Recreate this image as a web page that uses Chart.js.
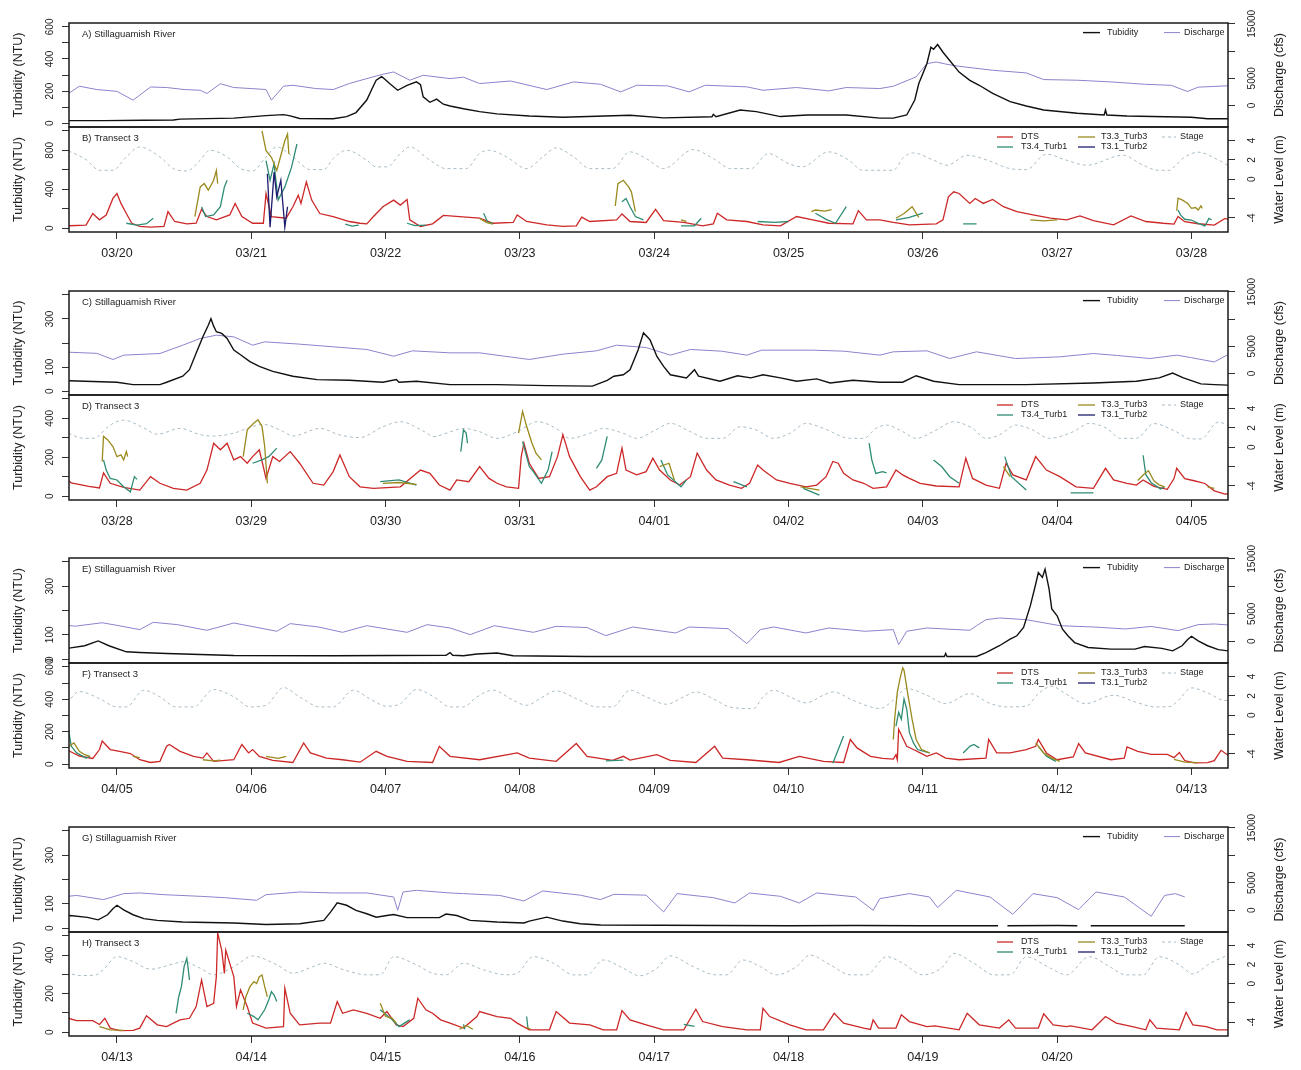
<!DOCTYPE html>
<html>
<head>
<meta charset="utf-8">
<script src="https://cdn.jsdelivr.net/npm/chart.js@4.4.1/dist/chart.umd.min.js"></script>
<style>
  html, body { margin: 0; padding: 0; background: #fff; }
  #wrap { position: relative; width: 1301px; height: 1070px; overflow: hidden; }
  #wrap canvas { position: absolute; left: 0; }
</style>
</head>
<body>
<div id="wrap"></div>
<script>
// time is in days counted from 1 March (03/20 = 20, 04/01 = 32, 04/13 = 44)
const tickStartDay = [20, 28, 36, 44];
const tickLabels = [
  ['03/20', '03/21', '03/22', '03/23', '03/24', '03/25', '03/26', '03/27', '03/28'],
  ['03/28', '03/29', '03/30', '03/31', '04/01', '04/02', '04/03', '04/04', '04/05'],
  ['04/05', '04/06', '04/07', '04/08', '04/09', '04/10', '04/11', '04/12', '04/13'],
  ['04/13', '04/14', '04/15', '04/16', '04/17', '04/18', '04/19', '04/20']
];
const riverNames = ['A) Stillaguamish River', 'C) Stillaguamish River', 'E) Stillaguamish River', 'G) Stillaguamish River'];
const transectNames = ['B) Transect 3', 'D) Transect 3', 'F) Transect 3', 'H) Transect 3'];

// river turbidity (NTU)
const riverTurbidity = [
  [19.64,16],[19.9,16],[20.2,18],[20.42,20],[20.47,25],[20.87,31],[21.11,47],[21.24,53],[21.29,45],[21.36,29],
  [21.61,27],[21.71,41],[21.78,66],[21.86,144],[21.9,216],[21.93,267],[21.97,290],[21.98,284],[22.03,247],[22.09,205],
  [22.16,236],[22.23,257],[22.26,240],[22.28,164],[22.33,130],[22.38,150],[22.43,118],[22.48,107],[22.58,90],[22.7,72],
  [22.83,58],[23.07,45],[23.32,37],[23.82,49],[24.07,33],[24.43,40],[24.44,55],[24.46,40],[24.64,82],[24.76,72],
  [24.94,41],[25.14,51],[25.43,51],[25.68,31],[25.78,31],[25.88,51],[25.94,144],[25.97,247],[26.03,370],[26.06,473],
  [26.08,460],[26.11,490],[26.15,442],[26.2,390],[26.27,318],[26.35,267],[26.42,236],[26.52,185],[26.65,134],[26.77,107],
  [26.9,82],[27.15,62],[27.35,51],[27.36,82],[27.37,51],[27.52,45],[28.0,37],[28.12,27],[28.32,27],[28.37,37],
  [28.49,62],[28.54,89],[28.59,158],[28.64,226],[28.68,274],[28.7,301],[28.72,270],[28.74,247],[28.78,240],[28.82,219],
  [28.87,171],[28.92,151],[28.99,123],[29.06,103],[29.16,82],[29.31,62],[29.49,48],[29.73,45],[29.98,37],[30.08,48],
  [30.1,37],[30.23,41],[30.48,27],[30.83,27],[31.2,23],[31.54,21],[31.65,45],[31.7,62],[31.77,68],[31.82,89],
  [31.88,171],[31.92,242],[31.95,225],[31.97,212],[32.02,144],[32.07,103],[32.12,68],[32.24,55],[32.3,89],[32.33,62],
  [32.49,41],[32.62,64],[32.72,55],[32.81,68],[32.94,55],[33.06,41],[33.21,51],[33.31,34],[33.48,45],[33.68,37],
  [33.85,37],[33.95,64],[34.08,41],[34.27,27],[34.77,27],[35.27,34],[35.59,41],[35.76,55],[35.86,75],[35.94,55],
  [36.07,30],[36.17,27],[36.37,23],[36.62,19],[36.87,15],[37.61,14],[38.45,16],[38.48,27],[38.5,16],[38.58,14],
  [38.68,21],[38.83,25],[38.95,14],[39.5,11],[40.5,11],[41.5,11],[42.16,11],[42.17,23],[42.18,11],[42.4,11],
  [42.47,27],[42.57,55],[42.65,82],[42.7,96],[42.75,130],[42.8,219],[42.84,308],[42.86,356],[42.89,336],[42.91,370],
  [42.94,288],[42.96,206],[43.0,178],[43.04,123],[43.08,96],[43.13,68],[43.23,48],[43.4,41],[43.58,41],[43.65,52],
  [43.78,44],[43.86,34],[43.93,55],[43.97,80],[44.0,94],[44.05,75],[44.12,55],[44.2,39],[44.3,32],[44.49,25],
  [44.87,21],[45.11,15],[45.36,18],[45.54,32],[45.59,66],[45.64,104],[45.71,94],[45.78,73],[45.86,59],[45.93,45],
  [46.01,52],[46.06,56],[46.16,43],[46.4,43],[46.45,58],[46.53,52],[46.63,32],[46.83,25],[47.03,21],[47.07,29],
  [47.2,45],[47.32,29],[47.45,18],[47.6,13],[48.5,11],[49.0,10],[49.5,11],[50.0,10],[50.56,10],[50.6,null],
  [50.63,10],[51.0,11],[51.15,10],[51.2,null],[51.25,10],[51.95,10]
];

// river discharge (cfs)
const riverDischarge = [
  [19.64,2200],[19.72,3540],[19.85,2930],[20.0,2600],[20.12,980],[20.25,3400],[20.37,3300],[20.5,2930],[20.62,2800],[20.67,2200],
  [20.77,4000],[20.87,3300],[21.0,3110],[21.11,2930],[21.15,980],[21.24,3540],[21.31,3720],[21.48,3110],[21.61,2930],[21.73,4030],
  [21.86,4940],[21.98,5730],[22.06,6160],[22.18,4640],[22.28,5550],[22.48,4940],[22.58,5200],[22.7,4030],[22.93,4500],[23.2,2930],
  [23.4,4330],[23.6,3900],[23.75,2500],[23.87,3720],[24.1,3600],[24.26,2500],[24.38,3720],[24.69,3420],[24.81,2800],[25.06,3300],
  [25.3,2680],[25.43,3300],[25.68,3110],[25.78,3540],[25.95,5250],[26.03,7690],[26.1,7990],[26.18,7560],[26.27,7200],[26.52,6470],
  [26.77,5980],[26.9,4760],[27.15,4640],[27.4,4330],[27.65,3900],[27.85,3700],[27.97,2570],[28.05,3370],[28.32,3670],[28.49,5200],
  [28.62,6430],[28.74,7040],[28.87,6730],[29.01,5200],[29.1,5810],[29.36,5390],[29.61,4900],[29.86,4410],[30.06,3180],[30.2,4160],
  [30.48,3790],[30.7,3790],[31.07,2570],[31.32,3550],[31.57,4160],[31.72,5200],[31.94,4770],[32.12,3370],[32.27,4410],[32.5,4100],
  [32.69,3370],[32.8,4280],[33.18,4280],[33.41,4100],[33.68,3370],[33.78,3980],[34.03,4160],[34.2,2750],[34.4,3980],[34.69,2750],
  [35.02,3060],[35.27,3670],[35.45,3300],[35.69,2750],[35.89,3370],[36.0,2900],[36.17,2120],[36.27,3450],[36.45,3030],[36.67,2000],
  [36.87,3330],[37.19,1820],[37.29,3210],[37.5,2600],[37.68,1630],[37.86,2840],[38.16,1630],[38.31,3030],[38.48,2420],[38.63,1210],
  [38.81,2840],[39.1,1630],[39.27,2720],[39.5,2500],[39.64,1030],[39.84,2600],[40.16,1510],[40.26,2600],[40.55,2300],[40.69,-420],
  [40.79,2120],[40.89,2600],[41.13,1510],[41.3,2420],[41.57,1820],[41.78,2120],[41.82,-600],[41.88,1820],[42.03,2420],[42.35,2000],
  [42.4,2840],[42.47,3930],[42.57,4240],[42.77,3930],[43.02,2840],[43.27,2600],[43.51,2240],[43.7,2700],[43.9,1940],[44.05,3030],
  [44.17,3150],[44.35,2840],[44.62,2540],[44.8,2300],[45.04,1820],[45.11,2840],[45.36,3330],[45.61,3150],[45.86,3150],[46.06,2420],
  [46.09,0],[46.13,3330],[46.23,3630],[46.48,3150],[46.58,3030],[46.85,2700],[47.03,1700],[47.17,3510],[47.45,2750],[47.6,1940],
  [47.7,2900],[47.94,2750],[48.07,-300],[48.17,3030],[48.44,2300],[48.6,1330],[48.71,3150],[48.94,2540],[49.08,1330],[49.21,3150],
  [49.5,2420],[49.63,0],[49.68,2120],[49.9,3030],[50.05,2420],[50.11,500],[50.25,3630],[50.5,2420],[50.67,-730],[50.82,3030],
  [51.0,2300],[51.16,120],[51.29,3330],[51.5,2420],[51.7,-1090],[51.8,2700],[51.88,3030],[51.95,2420]
];

// transect 3 DTS turbidity (NTU)
const dts = [
  [19.64,24],[19.77,30],[19.82,150],[19.87,85],[19.92,135],[19.97,305],[20.0,356],[20.03,254],[20.07,150],[20.11,50],
  [20.17,17],[20.25,10],[20.35,17],[20.38,170],[20.43,68],[20.52,44],[20.59,50],[20.63,193],[20.67,119],[20.74,85],
  [20.84,135],[20.88,254],[20.93,119],[21.01,50],[21.09,50],[21.11,356],[21.15,119],[21.26,102],[21.31,220],[21.35,339],
  [21.37,254],[21.41,475],[21.45,288],[21.51,150],[21.61,119],[21.73,68],[21.81,50],[21.86,44],[21.91,119],[21.98,220],
  [22.06,288],[22.11,237],[22.16,295],[22.18,85],[22.26,17],[22.35,44],[22.43,130],[22.55,119],[22.7,102],[22.8,50],
  [22.95,58],[22.98,136],[23.05,68],[23.2,34],[23.32,17],[23.42,24],[23.46,112],[23.52,68],[23.72,85],[23.76,146],
  [23.82,68],[23.94,58],[24.01,193],[24.07,78],[24.22,58],[24.36,24],[24.44,44],[24.47,153],[24.54,85],[24.69,68],
  [24.81,34],[24.94,24],[25.06,119],[25.18,85],[25.3,50],[25.48,44],[25.52,180],[25.58,85],[25.68,85],[25.78,58],
  [25.9,34],[26.1,44],[26.15,85],[26.19,322],[26.23,373],[26.27,356],[26.35,254],[26.39,305],[26.45,254],[26.52,295],
  [26.6,220],[26.7,170],[26.82,136],[26.95,102],[27.07,85],[27.17,125],[27.27,78],[27.42,34],[27.55,125],[27.66,68],
  [27.79,50],[27.87,42],[27.9,120],[27.95,66],[28.05,45],[28.17,31],[28.25,100],[28.32,66],[28.42,40],[28.52,31],
  [28.62,66],[28.67,134],[28.72,272],[28.77,238],[28.82,272],[28.87,186],[28.92,203],[28.97,169],[29.01,203],[29.06,238],
  [29.11,91],[29.16,203],[29.21,178],[29.29,229],[29.36,169],[29.46,66],[29.54,57],[29.61,126],[29.66,212],[29.73,100],
  [29.81,48],[29.91,40],[30.11,48],[30.26,134],[30.33,117],[30.4,57],[30.48,31],[30.53,83],[30.62,74],[30.7,152],
  [30.77,91],[30.83,66],[30.9,48],[30.99,40],[31.01,203],[31.03,272],[31.07,169],[31.14,91],[31.22,100],[31.28,203],
  [31.32,316],[31.37,203],[31.45,100],[31.52,31],[31.57,48],[31.65,100],[31.72,117],[31.76,247],[31.79,134],[31.87,109],
  [31.94,126],[31.99,195],[32.04,134],[32.12,83],[32.19,57],[32.27,100],[32.32,221],[32.39,134],[32.46,83],[32.56,57],
  [32.65,40],[32.71,66],[32.77,160],[32.81,134],[32.91,83],[33.01,66],[33.13,48],[33.21,57],[33.28,100],[33.33,178],
  [33.37,169],[33.41,117],[33.48,83],[33.56,66],[33.63,40],[33.73,48],[33.8,134],[33.85,109],[33.9,91],[33.98,66],
  [34.1,52],[34.27,48],[34.32,195],[34.37,91],[34.47,57],[34.57,40],[34.62,169],[34.67,109],[34.77,83],[34.84,203],
  [34.92,134],[35.02,100],[35.14,48],[35.27,40],[35.36,143],[35.42,83],[35.52,66],[35.59,57],[35.64,83],[35.72,50],
  [35.82,35],[35.87,90],[35.89,143],[35.95,90],[36.02,79],[36.1,65],[36.17,27],[36.25,10],[36.32,17],[36.37,110],
  [36.39,121],[36.47,79],[36.57,48],[36.64,37],[36.67,69],[36.72,17],[36.87,27],[36.93,121],[36.98,69],[37.01,90],
  [37.06,48],[37.16,23],[37.31,10],[37.39,131],[37.44,69],[37.56,37],[37.68,27],[37.81,12],[37.93,79],[38.01,48],
  [38.16,17],[38.35,10],[38.4,110],[38.48,48],[38.7,27],[38.98,69],[39.07,37],[39.27,17],[39.42,127],[39.5,48],
  [39.69,23],[39.77,48],[39.82,25],[40.02,58],[40.12,23],[40.31,10],[40.45,110],[40.51,37],[40.69,27],[40.93,10],
  [41.08,48],[41.26,17],[41.41,10],[41.46,152],[41.51,100],[41.61,48],[41.7,35],[41.78,31],[41.8,58],[41.81,27],
  [41.82,215],[41.88,110],[41.93,90],[41.98,69],[42.03,48],[42.1,69],[42.17,37],[42.27,27],[42.47,37],[42.49,152],
  [42.55,69],[42.65,69],[42.77,90],[42.84,110],[42.86,152],[42.92,69],[43.0,27],[43.12,44],[43.16,127],[43.21,69],
  [43.4,27],[43.5,37],[43.52,106],[43.6,79],[43.7,60],[43.82,60],[43.87,40],[43.91,72],[43.95,21],[44.02,8],
  [44.12,9],[44.17,21],[44.22,85],[44.3,38],[44.37,29],[44.42,47],[44.47,64],[44.54,72],[44.59,133],[44.63,271],
  [44.67,133],[44.72,150],[44.74,288],[44.75,515],[44.78,426],[44.8,305],[44.81,426],[44.84,357],[44.87,288],[44.89,133],
  [44.92,219],[44.97,133],[45.01,47],[45.11,21],[45.24,29],[45.25,228],[45.29,98],[45.36,38],[45.51,47],[45.59,47],
  [45.64,159],[45.68,98],[45.76,116],[45.86,98],[45.96,72],[46.01,107],[46.08,38],[46.13,29],[46.21,72],[46.24,176],
  [46.3,116],[46.35,98],[46.41,64],[46.48,47],[46.58,21],[46.68,81],[46.7,107],[46.83,81],[46.93,72],[46.98,47],
  [47.07,12],[47.22,12],[47.27,107],[47.37,47],[47.52,38],[47.62,12],[47.72,12],[47.76,112],[47.82,64],[47.94,38],
  [48.07,12],[48.22,12],[48.31,119],[48.36,55],[48.51,29],[48.69,12],[48.79,12],[48.81,124],[48.86,81],[49.01,38],
  [49.13,12],[49.26,12],[49.34,98],[49.41,47],[49.56,21],[49.61,14],[49.63,64],[49.67,21],[49.8,21],[49.84,90],
  [49.9,55],[50.03,29],[50.09,33],[50.27,12],[50.33,98],[50.42,38],[50.57,21],[50.64,64],[50.69,21],[50.86,21],
  [50.9,95],[50.97,38],[51.07,29],[51.1,33],[51.26,12],[51.36,81],[51.44,47],[51.56,29],[51.66,12],[51.69,64],
  [51.74,21],[51.91,12],[51.96,103],[52.01,38],[52.11,29],[52.19,12],[52.27,12]
];

// T3.4_Turb1 (NTU), gaps as null
const turb1 = [
  [20.07,50],[20.15,30],[20.22,45],[20.27,102],[20.28,null],
  [20.63,220],[20.66,119],[20.72,136],[20.77,220],[20.8,424],[20.82,492],[20.83,null],
  [21.11,695],[21.14,492],[21.17,661],[21.2,288],[21.25,424],[21.3,627],[21.34,865],[21.35,null],
  [21.7,40],[21.75,20],[21.8,30],[21.81,null],
  [22.16,50],[22.22,25],[22.3,30],[22.31,null],
  [22.73,153],[22.76,60],[22.8,50],[22.81,null],
  [23.76,271],[23.79,305],[23.82,220],[23.86,119],[23.92,85],[23.93,null],
  [24.2,24],[24.3,24],[24.35,102],[24.36,null],
  [24.77,68],[24.9,60],[25.0,68],[25.01,null],
  [25.2,153],[25.28,90],[25.35,50],[25.43,220],[25.44,null],
  [25.8,85],[25.9,110],[26.0,153],[26.01,null],
  [26.3,44],[26.4,44],[26.41,null],
  [27.9,186],[27.92,134],[27.95,91],[28.0,83],[28.05,48],[28.1,22],[28.13,100],[28.15,86],[28.16,null],
  [29.01,169],[29.08,186],[29.13,203],[29.19,247],[29.2,null],
  [29.96,74],[30.1,83],[30.23,57],[30.24,null],
  [30.56,229],[30.58,341],[30.6,324],[30.61,272],[30.62,null],
  [31.02,281],[31.07,152],[31.1,126],[31.16,66],[31.21,134],[31.24,229],[31.25,null],
  [31.57,143],[31.61,186],[31.65,307],[31.66,null],
  [32.05,186],[32.1,109],[32.2,48],[32.24,83],[32.25,null],
  [32.59,74],[32.69,48],[32.7,null],
  [33.11,40],[33.23,5],[33.24,null],
  [33.6,272],[33.62,186],[33.65,117],[33.7,126],[33.73,120],[33.74,null],
  [34.08,186],[34.14,152],[34.2,100],[34.27,66],[34.28,null],
  [34.61,203],[34.66,100],[34.77,31],[34.78,null],
  [35.1,17],[35.27,17],[35.28,null],
  [35.64,210],[35.66,110],[35.7,69],[35.77,37],[35.8,48],[35.81,null],
  [39.64,20],[39.77,25],[39.78,null],
  [41.33,6],[41.41,173],[41.42,null],
  [41.8,235],[41.82,319],[41.84,277],[41.86,402],[41.88,340],[41.9,194],[41.93,131],[41.96,90],[42.01,79],[42.05,69],[42.06,null],
  [42.3,69],[42.35,110],[42.38,121],[42.42,100],[42.43,null],
  [42.86,110],[42.92,48],[42.99,17],[43.0,null],
  [44.44,98],[44.46,184],[44.48,236],[44.5,340],[44.52,383],[44.53,331],[44.54,271],[44.55,null],
  [44.97,98],[45.02,81],[45.05,64],[45.1,116],[45.13,167],[45.15,210],[45.17,193],[45.19,159],[45.2,null],
  [45.96,116],[46.05,64],[46.1,29],[46.14,47],[46.18,64],[46.19,null],
  [46.58,40],[46.59,15],[46.6,null],
  [47.05,81],[47.06,20],[47.07,null],
  [48.22,40],[48.3,30]
];

// T3.3_Turb3 (NTU)
const turb3 = [
  [20.58,119],[20.62,424],[20.65,458],[20.68,390],[20.72,492],[20.74,593],[20.75,458],[20.76,null],
  [21.08,1000],[21.11,797],[21.15,729],[21.19,593],[21.21,695],[21.25,898],[21.27,966],[21.28,763],[21.29,null],
  [22.7,100],[22.75,60],[22.8,40],[22.81,null],
  [23.71,227],[23.73,458],[23.77,492],[23.81,424],[23.83,373],[23.86,170],[23.87,null],
  [24.2,85],[24.24,70],[24.25,null],
  [25.17,170],[25.2,186],[25.27,175],[25.32,190],[25.33,null],
  [25.8,102],[25.86,150],[25.92,220],[25.97,110],[25.98,null],
  [26.8,85],[26.9,75],[27.0,85],[27.01,null],
  [27.89,178],[27.9,307],[27.93,290],[27.97,255],[28.0,203],[28.03,212],[28.05,186],[28.07,229],[28.08,203],[28.09,null],
  [28.94,203],[28.97,341],[29.02,376],[29.05,393],[29.08,359],[29.1,255],[29.12,66],[29.13,null],
  [29.98,66],[30.1,70],[30.23,60],[30.24,null],
  [30.99,324],[31.02,436],[31.05,359],[31.09,272],[31.12,221],[31.16,186],[31.17,null],
  [32.04,152],[32.11,169],[32.15,83],[32.16,null],
  [33.09,48],[33.23,31],[33.24,null],
  [34.6,152],[34.65,100],[34.66,null],
  [35.6,80],[35.65,115],[35.68,131],[35.72,79],[35.76,58],[35.8,48],[35.81,null],
  [36.12,48],[36.17,40],[36.18,null],
  [36.64,27],[36.72,20],[36.77,25],[36.78,null],
  [37.11,48],[37.2,35],[37.26,48],[37.27,null],
  [41.78,152],[41.79,277],[41.81,444],[41.83,527],[41.85,594],[41.86,579],[41.89,423],[41.92,277],[41.95,152],[41.99,90],[42.05,69],[42.06,null],
  [42.84,131],[42.9,69],[42.96,37],[43.02,17],[43.03,null],
  [43.87,29],[43.95,12],[44.05,9],[44.06,null],
  [44.94,116],[44.96,184],[44.99,236],[45.02,262],[45.04,253],[45.06,288],[45.08,297],[45.1,236],[45.12,184],[45.13,null],
  [45.96,150],[46.0,81],[46.05,72],[46.08,47],[46.09,null],
  [46.55,15],[46.6,35],[46.65,15],[46.66,null],
  [47.05,25],[47.08,15]
];

// T3.1_Turb2 (NTU)
const turb2 = [
  [21.12,559],[21.14,10],[21.17,576],[21.19,322],[21.22,492],[21.25,10],[21.27,220]
];

// stage (m)
const stage = [
  [19.64,2.93],[19.77,2.03],[19.87,0.93],[19.97,0.93],[20.07,2.31],[20.17,3.34],[20.32,2.31],[20.42,1.1],[20.52,0.86],[20.62,1.97],
  [20.69,3.0],[20.82,2.31],[20.92,1.1],[21.01,0.86],[21.11,2.31],[21.19,3.34],[21.31,2.31],[21.44,1.0],[21.54,1.0],[21.61,2.14],
  [21.71,3.0],[21.86,1.97],[21.93,1.28],[22.01,1.28],[22.11,2.66],[22.18,3.34],[22.33,1.97],[22.45,1.1],[22.6,1.1],[22.7,2.66],
  [22.77,3.0],[22.9,2.31],[23.05,1.1],[23.17,2.31],[23.27,3.24],[23.4,2.31],[23.52,1.1],[23.69,1.1],[23.82,2.83],[23.94,2.14],
  [24.07,1.1],[24.29,3.07],[24.44,2.14],[24.57,1.1],[24.72,1.1],[24.85,2.66],[25.0,1.62],[25.1,1.28],[25.3,2.83],[25.45,1.97],
  [25.55,0.93],[25.78,0.93],[25.86,2.31],[25.93,2.72],[26.08,1.97],[26.18,1.45],[26.33,2.48],[26.48,1.97],[26.65,1.1],[26.77,1.0],
  [26.92,2.59],[27.07,1.97],[27.22,1.45],[27.49,2.48],[27.64,1.45],[27.75,0.93],[27.84,0.93],[27.87,1.27],[27.95,2.29],[28.05,2.8],
  [28.2,2.0],[28.3,1.34],[28.47,1.95],[28.62,1.3],[28.72,1.16],[28.87,1.45],[28.97,1.95],[29.09,2.36],[29.24,1.61],[29.31,1.16],
  [29.51,1.95],[29.66,1.27],[29.81,1.0],[29.98,2.12],[30.11,2.64],[30.29,1.61],[30.36,1.1],[30.45,1.44],[30.58,1.95],[30.7,1.61],
  [30.83,0.92],[30.98,1.61],[31.13,2.64],[31.27,1.95],[31.37,0.92],[31.52,1.44],[31.62,1.95],[31.77,1.44],[31.87,0.92],[32.01,1.78],
  [32.12,2.47],[32.27,1.61],[32.39,0.92],[32.51,0.92],[32.64,2.12],[32.76,1.78],[32.89,0.92],[33.01,1.44],[33.13,2.47],[33.26,1.95],
  [33.46,0.92],[33.56,0.92],[33.65,1.95],[33.73,2.29],[33.85,1.61],[33.95,0.92],[34.1,1.78],[34.23,2.64],[34.37,1.95],[34.47,0.92],
  [34.57,1.27],[34.69,2.29],[34.82,1.78],[34.94,0.92],[35.12,1.61],[35.24,2.47],[35.37,1.95],[35.47,0.92],[35.59,0.92],[35.72,2.45],
  [35.87,1.72],[36.0,0.86],[36.07,0.86],[36.2,2.59],[36.32,1.9],[36.44,0.86],[36.57,0.86],[36.72,2.66],[36.87,1.9],[36.99,0.86],
  [37.11,1.03],[37.24,2.86],[37.36,1.9],[37.51,0.86],[37.61,0.86],[37.76,2.59],[37.88,1.72],[38.01,0.93],[38.11,1.2],[38.23,2.66],
  [38.36,1.9],[38.48,0.86],[38.58,0.86],[38.68,1.9],[38.8,2.59],[38.95,1.55],[39.05,1.03],[39.17,1.9],[39.27,2.52],[39.42,1.72],
  [39.57,0.86],[39.69,0.86],[39.82,2.59],[39.94,1.9],[40.09,1.14],[40.22,1.9],[40.31,2.41],[40.46,1.55],[40.56,0.86],[40.74,0.69],
  [40.81,1.9],[40.89,2.59],[41.01,1.9],[41.13,1.28],[41.26,2.07],[41.33,2.41],[41.48,1.55],[41.61,0.86],[41.68,0.69],[41.78,1.55],
  [41.88,2.76],[42.03,2.07],[42.17,1.2],[42.35,2.24],[42.49,1.28],[42.62,0.86],[42.77,0.93],[42.86,2.24],[42.96,3.0],[43.06,2.24],
  [43.21,1.2],[43.42,2.07],[43.58,1.38],[43.73,0.86],[43.84,0.9],[43.9,1.5],[44.0,2.83],[44.12,2.31],[44.25,1.52],[44.42,2.07],
  [44.49,2.31],[44.62,1.62],[44.72,0.93],[44.87,1.79],[45.01,2.9],[45.19,1.97],[45.31,1.1],[45.46,1.79],[45.54,2.14],[45.69,1.45],
  [45.86,0.93],[45.96,0.93],[46.06,2.83],[46.23,1.97],[46.35,1.1],[46.45,0.93],[46.58,2.14],[46.73,1.45],[46.9,0.93],[46.98,1.1],
  [47.1,2.83],[47.25,2.14],[47.4,0.93],[47.5,0.93],[47.62,2.48],[47.77,1.62],[47.89,0.83],[48.02,1.62],[48.12,2.9],[48.29,1.79],
  [48.46,0.93],[48.54,0.93],[48.66,2.48],[48.79,1.79],[48.91,0.93],[49.06,1.79],[49.16,3.0],[49.31,1.97],[49.46,0.93],[49.58,0.93],
  [49.73,2.83],[49.85,2.14],[50.0,0.93],[50.15,1.79],[50.23,3.17],[50.38,2.14],[50.53,0.93],[50.65,0.93],[50.77,2.8],[50.95,1.62],
  [51.07,0.93],[51.24,2.83],[51.39,1.79],[51.51,0.93],[51.64,0.93],[51.76,2.83],[51.91,1.97],[52.01,1.03],[52.14,2.14],[52.27,3.0]
];

// axis ticks: every tick value, and the ones that carry a label
const riverTicks = [[0,100,200,300,400,500,600], [0,100,200,300,400], [0,100,200,300,400], [0,100,200,300,400]];
const riverTickLabels = [[0,200,400,600], [0,100,300], [0,100,300], [0,100,300]];
const riverRange = [[-24,624], [-16,416], [-16,416], [-16,416]];
const transectTicks = [[0,200,400,600,800,1000], [0,100,200,300,400,500], [0,100,200,300,400,500,600], [0,100,200,300,400,500]];
const transectTickLabels = [[0,400,800], [0,200,400], [0,200,400,600], [0,200,400]];
const transectRange = [[-40,1040], [-20,520], [-24,624], [-20,520]];
const dischargeTicks = [0, 5000, 10000, 15000];
const dischargeTickLabels = [0, 5000, 15000];
const stageTicks = [-4, -2, 0, 2, 4];
const stageTickLabels = [-4, 0, 2, 4];

// page layout (pixels)
const FONT = '"Liberation Sans", Arial, Helvetica, sans-serif';
const groupTop = [23, 291, 558, 827];
const groupMid = [127, 395, 663, 932];
const groupBottom = [232, 500, 768, 1036];
const W = 1301, LEFT_W = 69, RIGHT_W = 73, PAD = 20, XAXIS_H = 45;

Chart.defaults.font.family = FONT;

const pts = arr => arr.map(([x, y]) => ({ x, y }));

// box, panel tag, legend and right axis title, the way R draws them
const decor = {
  id: 'decor',
  afterDraw(chart, args, o) {
    const { ctx, chartArea: a } = chart;
    ctx.save();
    ctx.strokeStyle = '#1a1a1a';
    ctx.lineWidth = 1.5;
    ctx.strokeRect(a.left, a.top, a.right - a.left, a.bottom - a.top);

    ctx.fillStyle = '#222';
    ctx.textBaseline = 'middle';
    ctx.textAlign = 'left';
    ctx.font = '9.5px ' + FONT;
    ctx.fillText(o.tag, a.left + 13, a.top + 11);

    ctx.font = '9px ' + FONT;
    o.legend.forEach(item => {
      const ds = chart.data.datasets.find(d => d.label === item.label);
      const y = a.top + item.dy;
      ctx.strokeStyle = ds.borderColor;
      ctx.lineWidth = ds.borderWidth;
      ctx.setLineDash(ds.borderDash || []);
      ctx.beginPath();
      ctx.moveTo(item.x0, y);
      ctx.lineTo(item.x1, y);
      ctx.stroke();
      ctx.setLineDash([]);
      ctx.fillStyle = '#222';
      ctx.fillText(item.label, item.tx, y);
    });

    ctx.font = '12.5px ' + FONT;
    ctx.textAlign = 'center';
    ctx.translate(1280, (a.top + a.bottom) / 2);
    ctx.rotate(-Math.PI / 2);
    ctx.fillText(o.rightTitle, 0, 0);
    ctx.restore();
  }
};

function yAxis(pos, range, ticks, shown, pad, title) {
  return {
    type: 'linear',
    position: pos,
    min: range[0],
    max: range[1],
    afterBuildTicks: s => { s.ticks = ticks.map(v => ({ value: v })); },
    afterFit: s => {
      s.width = pos === 'left' ? LEFT_W : RIGHT_W;
      s.paddingTop = 0;
      s.paddingBottom = 0;
    },
    grid: { drawOnChartArea: false, tickLength: 7, color: '#333', lineWidth: 1 },
    border: { display: false },
    ticks: {
      autoSkip: false,
      minRotation: 90,
      maxRotation: 90,
      crossAlign: 'center',
      padding: pad,
      color: '#222',
      font: { size: 10 },
      callback: v => shown.includes(v) ? String(v) : ''
    },
    title: {
      display: !!title,
      text: title || '',
      color: '#222',
      padding: { top: 11.5, bottom: 0 },
      font: { size: 12.5 }
    }
  };
}

function xAxis(g, show) {
  const first = tickStartDay[g];
  const labels = tickLabels[g];
  return {
    type: 'linear',
    display: show,
    min: first - 0.357,
    max: first + 8.272,
    afterBuildTicks: s => { s.ticks = labels.map((_, i) => ({ value: first + i })); },
    afterFit: s => {
      s.height = show ? XAXIS_H : 0;
      s.paddingLeft = 0;
      s.paddingRight = 0;
    },
    grid: { drawOnChartArea: false, tickLength: 7, color: '#333', lineWidth: 1 },
    border: { display: false },
    ticks: {
      autoSkip: false,
      maxRotation: 0,
      padding: 7,
      color: '#222',
      font: { size: 12.5 },
      callback: v => labels[Math.round(v - first)] || ''
    }
  };
}

function addCanvas(y, h) {
  const c = document.createElement('canvas');
  c.width = W;
  c.height = h;
  c.style.top = y + 'px';
  c.style.width = W + 'px';
  c.style.height = h + 'px';
  document.getElementById('wrap').appendChild(c);
  return c;
}

const lineDefaults = { pointRadius: 0, fill: false, tension: 0, spanGaps: false };

for (let g = 0; g < 4; g++) {
  // upper panel: river turbidity and discharge
  const c1 = addCanvas(groupTop[g] - PAD, groupMid[g] - groupTop[g] + 2 * PAD);
  new Chart(c1, {
    type: 'line',
    data: {
      datasets: [
        { ...lineDefaults, label: 'Tubidity', data: pts(riverTurbidity), borderColor: '#111111', borderWidth: 1.4, yAxisID: 'y' },
        { ...lineDefaults, label: 'Discharge', data: pts(riverDischarge), borderColor: '#8a84cc', borderWidth: 1, yAxisID: 'y2' }
      ]
    },
    options: {
      responsive: false,
      animation: false,
      events: [],
      layout: { padding: { top: PAD, bottom: PAD, left: 0, right: 0 } },
      scales: {
        x: xAxis(g, false),
        y: yAxis('left', riverRange[g], riverTicks[g], riverTickLabels[g], 3.5, 'Turbidity (NTU)'),
        y2: yAxis('right', [-3950, 15150], dischargeTicks, dischargeTickLabels, 3.6, null)
      },
      plugins: {
        legend: { display: false },
        tooltip: { enabled: false },
        decor: {
          tag: riverNames[g],
          rightTitle: 'Discharge (cfs)',
          legend: [
            { label: 'Tubidity', x0: 1083, x1: 1100, tx: 1107, dy: 9.6 },
            { label: 'Discharge', x0: 1164, x1: 1180, tx: 1184, dy: 9.6 }
          ]
        }
      }
    },
    plugins: [decor]
  });

  // lower panel: transect 3 turbidity and stage
  const c2 = addCanvas(groupMid[g] - PAD, groupBottom[g] - groupMid[g] + PAD + XAXIS_H);
  new Chart(c2, {
    type: 'line',
    data: {
      datasets: [
        { ...lineDefaults, label: 'T3.1_Turb2', data: pts(turb2), borderColor: '#1c1c6e', borderWidth: 1.3, yAxisID: 'y' },
        { ...lineDefaults, label: 'T3.3_Turb3', data: pts(turb3), borderColor: '#9a8a1e', borderWidth: 1.3, yAxisID: 'y' },
        { ...lineDefaults, label: 'T3.4_Turb1', data: pts(turb1), borderColor: '#2f8c74', borderWidth: 1.3, yAxisID: 'y' },
        { ...lineDefaults, label: 'DTS', data: pts(dts), borderColor: '#cc2828', borderWidth: 1.3, yAxisID: 'y' },
        { ...lineDefaults, label: 'Stage', data: pts(stage), borderColor: '#a9bcc6', borderWidth: 1, borderDash: [3, 3],
          cubicInterpolationMode: 'monotone', yAxisID: 'y2' }
      ]
    },
    options: {
      responsive: false,
      animation: false,
      events: [],
      layout: { padding: { top: PAD, bottom: 0, left: 0, right: 0 } },
      scales: {
        x: xAxis(g, true),
        y: yAxis('left', transectRange[g], transectTicks[g], transectTickLabels[g], 3.5, 'Turbidity (NTU)'),
        y2: yAxis('right', [-5.45, 5.4], stageTicks, stageTickLabels, 13, null)
      },
      plugins: {
        legend: { display: false },
        tooltip: { enabled: false },
        decor: {
          tag: transectNames[g],
          rightTitle: 'Water Level (m)',
          legend: [
            { label: 'DTS', x0: 997, x1: 1013, tx: 1021, dy: 10 },
            { label: 'T3.4_Turb1', x0: 997, x1: 1013, tx: 1021, dy: 20 },
            { label: 'T3.3_Turb3', x0: 1078, x1: 1095, tx: 1101, dy: 10 },
            { label: 'T3.1_Turb2', x0: 1078, x1: 1095, tx: 1101, dy: 20 },
            { label: 'Stage', x0: 1162, x1: 1176, tx: 1180, dy: 10 }
          ]
        }
      }
    },
    plugins: [decor]
  });
}
</script>
</body>
</html>
